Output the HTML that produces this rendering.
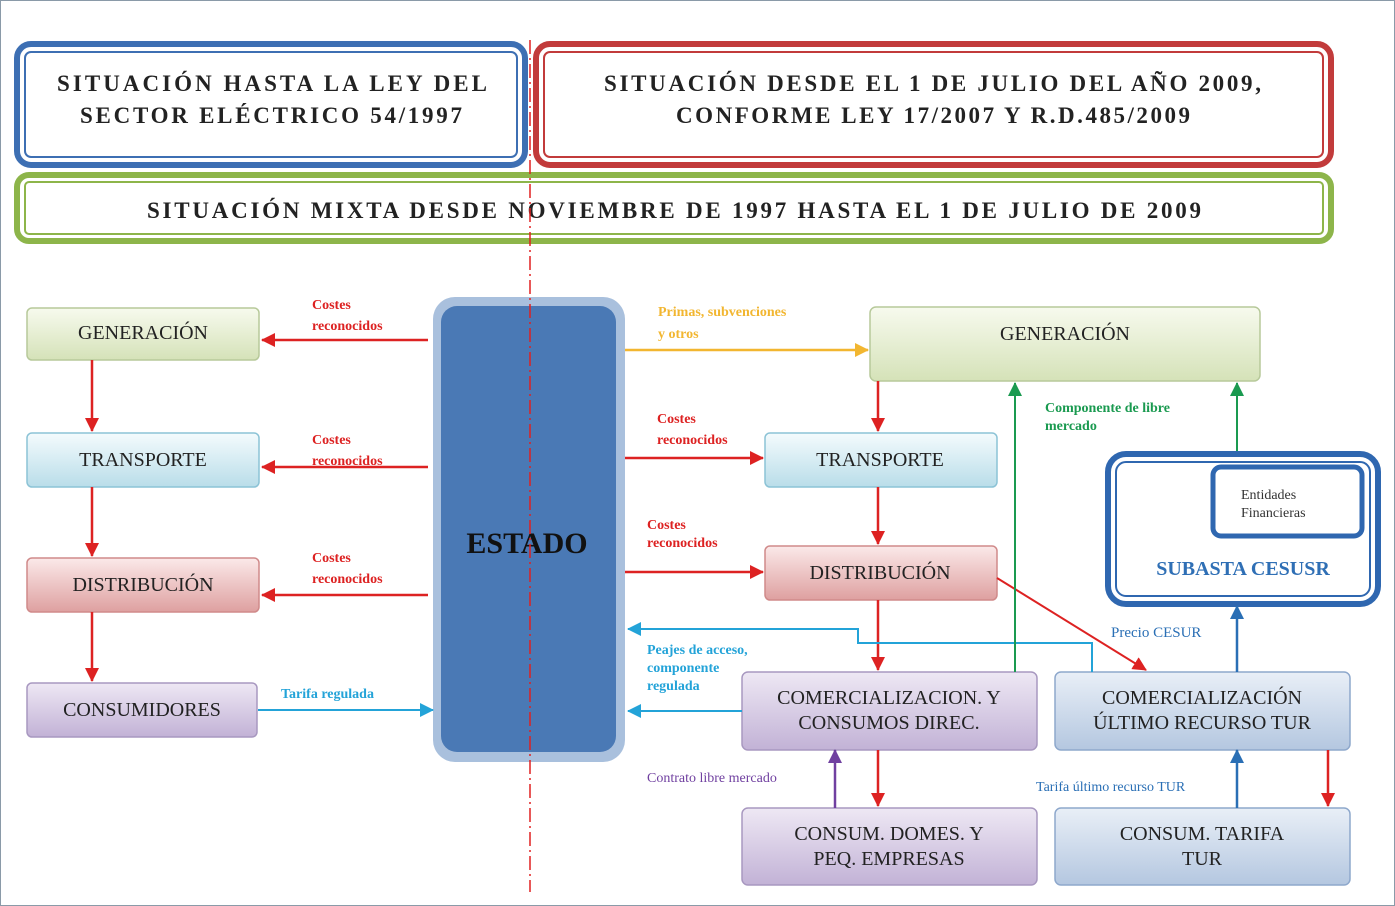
<!DOCTYPE html>
<html><head><meta charset="utf-8"><style>
body{margin:0;background:#fff}
svg{display:block}
text{font-family:"Liberation Serif",serif}
</style></head><body>
<svg width="1395" height="906" viewBox="0 0 1395 906">
<defs>
<marker id="rr" viewBox="0 0 14 14" markerWidth="14" markerHeight="14" refX="13" refY="7" orient="auto" markerUnits="userSpaceOnUse"><path d="M0,0L14,7L0,14z" fill="#d22"/></marker>
<marker id="y" viewBox="0 0 14 14" markerWidth="14" markerHeight="14" refX="13" refY="7" orient="auto" markerUnits="userSpaceOnUse"><path d="M0,0L14,7L0,14z" fill="#f2b630"/></marker>
<marker id="c" viewBox="0 0 14 14" markerWidth="14" markerHeight="14" refX="13" refY="7" orient="auto" markerUnits="userSpaceOnUse"><path d="M0,0L14,7L0,14z" fill="#23a3d8"/></marker>
<marker id="g" viewBox="0 0 14 14" markerWidth="14" markerHeight="14" refX="13" refY="7" orient="auto" markerUnits="userSpaceOnUse"><path d="M0,0L14,7L0,14z" fill="#1a9a50"/></marker>
<marker id="b" viewBox="0 0 14 14" markerWidth="14" markerHeight="14" refX="13" refY="7" orient="auto" markerUnits="userSpaceOnUse"><path d="M0,0L14,7L0,14z" fill="#2a6fb5"/></marker>
<marker id="p" viewBox="0 0 14 14" markerWidth="14" markerHeight="14" refX="13" refY="7" orient="auto" markerUnits="userSpaceOnUse"><path d="M0,0L14,7L0,14z" fill="#7040a0"/></marker>
<linearGradient id="gG" x1="0" y1="0" x2="0" y2="1"><stop offset="0" stop-color="#f7faee"/><stop offset="1" stop-color="#d5e2b8"/></linearGradient>
<linearGradient id="gB" x1="0" y1="0" x2="0" y2="1"><stop offset="0" stop-color="#f4fbfd"/><stop offset="1" stop-color="#b9dde9"/></linearGradient>
<linearGradient id="gR" x1="0" y1="0" x2="0" y2="1"><stop offset="0" stop-color="#fbe9e9"/><stop offset="1" stop-color="#dea0a0"/></linearGradient>
<linearGradient id="gP" x1="0" y1="0" x2="0" y2="1"><stop offset="0" stop-color="#eee8f4"/><stop offset="1" stop-color="#c2b2d6"/></linearGradient>
<linearGradient id="gS" x1="0" y1="0" x2="0" y2="1"><stop offset="0" stop-color="#e9eff7"/><stop offset="1" stop-color="#b4c7e0"/></linearGradient>
</defs>
<rect x="0.5" y="0.5" width="1394" height="905" fill="#fff" stroke="#8a9aa8"/>
<rect x="17" y="44" width="508" height="121" rx="14" fill="#fff" stroke="#3d6fb3" stroke-width="6"/>
<rect x="25" y="52" width="492" height="105" rx="6" fill="none" stroke="#3d6fb3" stroke-width="2"/>
<rect x="536" y="44" width="795" height="121" rx="14" fill="#fff" stroke="#c23b3b" stroke-width="6"/>
<rect x="544" y="52" width="779" height="105" rx="6" fill="none" stroke="#c23b3b" stroke-width="2"/>
<rect x="17" y="175" width="1314" height="66" rx="12" fill="#fff" stroke="#8db54a" stroke-width="6"/>
<rect x="25" y="182" width="1298" height="52" rx="4" fill="none" stroke="#8db54a" stroke-width="2"/>
<g font-weight="bold" font-size="23" fill="#222">
<text x="57" y="91" textLength="430" lengthAdjust="spacing">SITUACIÓN HASTA LA LEY DEL</text>
<text x="80" y="123" textLength="382" lengthAdjust="spacing">SECTOR ELÉCTRICO 54/1997</text>
<text x="604" y="91" textLength="657" lengthAdjust="spacing">SITUACIÓN DESDE EL 1 DE JULIO DEL AÑO 2009,</text>
<text x="676" y="123" textLength="514" lengthAdjust="spacing">CONFORME LEY 17/2007 Y R.D.485/2009</text>
<text x="147" y="218" textLength="1054" lengthAdjust="spacing">SITUACIÓN MIXTA DESDE NOVIEMBRE DE 1997 HASTA EL 1 DE JULIO DE 2009</text>
</g>
<rect x="433" y="297" width="192" height="465" rx="22" fill="#a9c0dd"/>
<rect x="441" y="306" width="175" height="446" rx="16" fill="#4a79b5"/>
<text x="527" y="553" font-size="30" font-weight="bold" fill="#111" text-anchor="middle">ESTADO</text>
<g stroke-width="1.5">
<rect x="27" y="308" width="232" height="52" rx="5" fill="url(#gG)" stroke="#b7c99a"/>
<rect x="27" y="433" width="232" height="54" rx="5" fill="url(#gB)" stroke="#8cc3d6"/>
<rect x="27" y="558" width="232" height="54" rx="5" fill="url(#gR)" stroke="#d08a8a"/>
<rect x="27" y="683" width="230" height="54" rx="5" fill="url(#gP)" stroke="#a898c0"/>
<rect x="870" y="307" width="390" height="74" rx="6" fill="url(#gG)" stroke="#b7c99a"/>
<rect x="765" y="433" width="232" height="54" rx="5" fill="url(#gB)" stroke="#8cc3d6"/>
<rect x="765" y="546" width="232" height="54" rx="5" fill="url(#gR)" stroke="#d08a8a"/>
<rect x="742" y="672" width="295" height="78" rx="6" fill="url(#gP)" stroke="#a898c0"/>
<rect x="1055" y="672" width="295" height="78" rx="6" fill="url(#gS)" stroke="#8ea8cc"/>
<rect x="742" y="808" width="295" height="77" rx="6" fill="url(#gP)" stroke="#a898c0"/>
<rect x="1055" y="808" width="295" height="77" rx="6" fill="url(#gS)" stroke="#8ea8cc"/>
</g>
<g font-size="20" fill="#222" text-anchor="middle">
<text x="143" y="339">GENERACIÓN</text>
<text x="143" y="466">TRANSPORTE</text>
<text x="143" y="591">DISTRIBUCIÓN</text>
<text x="142" y="716">CONSUMIDORES</text>
<text x="1065" y="340">GENERACIÓN</text>
<text x="880" y="466">TRANSPORTE</text>
<text x="880" y="579">DISTRIBUCIÓN</text>
<text x="889" y="704">COMERCIALIZACION. Y</text>
<text x="889" y="729">CONSUMOS  DIREC.</text>
<text x="1202" y="704">COMERCIALIZACIÓN</text>
<text x="1202" y="729">ÚLTIMO RECURSO TUR</text>
<text x="889" y="840">CONSUM. DOMES. Y</text>
<text x="889" y="865">PEQ. EMPRESAS</text>
<text x="1202" y="840">CONSUM.  TARIFA</text>
<text x="1202" y="865">TUR</text>
</g>
<rect x="1108" y="454" width="270" height="150" rx="18" fill="#fff" stroke="#2f67b0" stroke-width="6"/>
<rect x="1116" y="462" width="254" height="134" rx="10" fill="none" stroke="#2f67b0" stroke-width="2"/>
<rect x="1213" y="467" width="149" height="69" rx="8" fill="#fff" stroke="#2f67b0" stroke-width="5"/>
<text x="1241" y="499" font-size="14" fill="#333">Entidades</text>
<text x="1241" y="517" font-size="14" fill="#333">Financieras</text>
<text x="1243" y="575" font-size="20" font-weight="bold" fill="#2f6fb5" text-anchor="middle">SUBASTA CESUSR</text>
<g stroke="#d22" stroke-width="2.5" fill="none">
<line x1="428" y1="340" x2="262" y2="340" marker-end="url(#rr)"/>
<line x1="428" y1="467" x2="262" y2="467" marker-end="url(#rr)"/>
<line x1="428" y1="595" x2="262" y2="595" marker-end="url(#rr)"/>
<line x1="92" y1="360" x2="92" y2="431" marker-end="url(#rr)"/>
<line x1="92" y1="487" x2="92" y2="556" marker-end="url(#rr)"/>
<line x1="92" y1="612" x2="92" y2="681" marker-end="url(#rr)"/>
<line x1="625" y1="458" x2="763" y2="458" marker-end="url(#rr)"/>
<line x1="625" y1="572" x2="763" y2="572" marker-end="url(#rr)"/>
<line x1="878" y1="381" x2="878" y2="431" marker-end="url(#rr)"/>
<line x1="878" y1="487" x2="878" y2="544" marker-end="url(#rr)"/>
<line x1="878" y1="600" x2="878" y2="670" marker-end="url(#rr)"/>
<line x1="878" y1="750" x2="878" y2="806" marker-end="url(#rr)"/>
<line x1="1328" y1="750" x2="1328" y2="806" marker-end="url(#rr)"/>
<line x1="997" y1="578" x2="1146" y2="670" stroke-width="2" marker-end="url(#rr)"/>
</g>
<line x1="625" y1="350" x2="868" y2="350" stroke="#f2b630" stroke-width="2.5" marker-end="url(#y)"/>
<g stroke="#23a3d8" stroke-width="2" fill="none">
<line x1="258" y1="710" x2="433" y2="710" marker-end="url(#c)"/>
<line x1="742" y1="711" x2="628" y2="711" marker-end="url(#c)"/>
<polyline points="1092,672 1092,643 858,643 858,629 628,629" marker-end="url(#c)"/>
</g>
<g stroke="#1a9a50" stroke-width="2" fill="none">
<line x1="1015" y1="672" x2="1015" y2="383" marker-end="url(#g)"/>
<line x1="1237" y1="451" x2="1237" y2="383" marker-end="url(#g)"/>
</g>
<g stroke="#2a6fb5" stroke-width="2.5" fill="none">
<line x1="1237" y1="672" x2="1237" y2="606" marker-end="url(#b)"/>
<line x1="1237" y1="808" x2="1237" y2="750" marker-end="url(#b)"/>
</g>
<line x1="835" y1="808" x2="835" y2="750" stroke="#7040a0" stroke-width="2.5" marker-end="url(#p)"/>
<g font-size="14" font-weight="bold" fill="#d22">
<text x="312" y="309">Costes</text><text x="312" y="330">reconocidos</text>
<text x="312" y="444">Costes</text><text x="312" y="465">reconocidos</text>
<text x="312" y="562">Costes</text><text x="312" y="583">reconocidos</text>
<text x="657" y="423">Costes</text><text x="657" y="444">reconocidos</text>
<text x="647" y="529">Costes</text><text x="647" y="547">reconocidos</text>
</g>
<g font-size="14" font-weight="bold" fill="#23a3d8">
<text x="281" y="698">Tarifa regulada</text>
<text x="647" y="654">Peajes de acceso,</text>
<text x="647" y="672">componente</text>
<text x="647" y="690">regulada</text>
</g>
<text x="658" y="316" font-size="14" font-weight="bold" fill="#f2b630">Primas, subvenciones</text>
<text x="658" y="338" font-size="14" font-weight="bold" fill="#f2b630">y otros</text>
<text x="1045" y="412" font-size="14" font-weight="bold" fill="#1a9a50">Componente de libre</text>
<text x="1045" y="430" font-size="14" font-weight="bold" fill="#1a9a50">mercado</text>
<text x="1111" y="637" font-size="15" fill="#2a6fb5">Precio CESUR</text>
<text x="647" y="782" font-size="14" fill="#7040a0">Contrato libre mercado</text>
<text x="1036" y="791" font-size="14" fill="#2a6fb5">Tarifa último recurso TUR</text>
<line x1="530" y1="40" x2="530" y2="892" stroke="#e02020" stroke-width="1.5" stroke-dasharray="14,4,2,4"/>
</svg>
</body></html>
